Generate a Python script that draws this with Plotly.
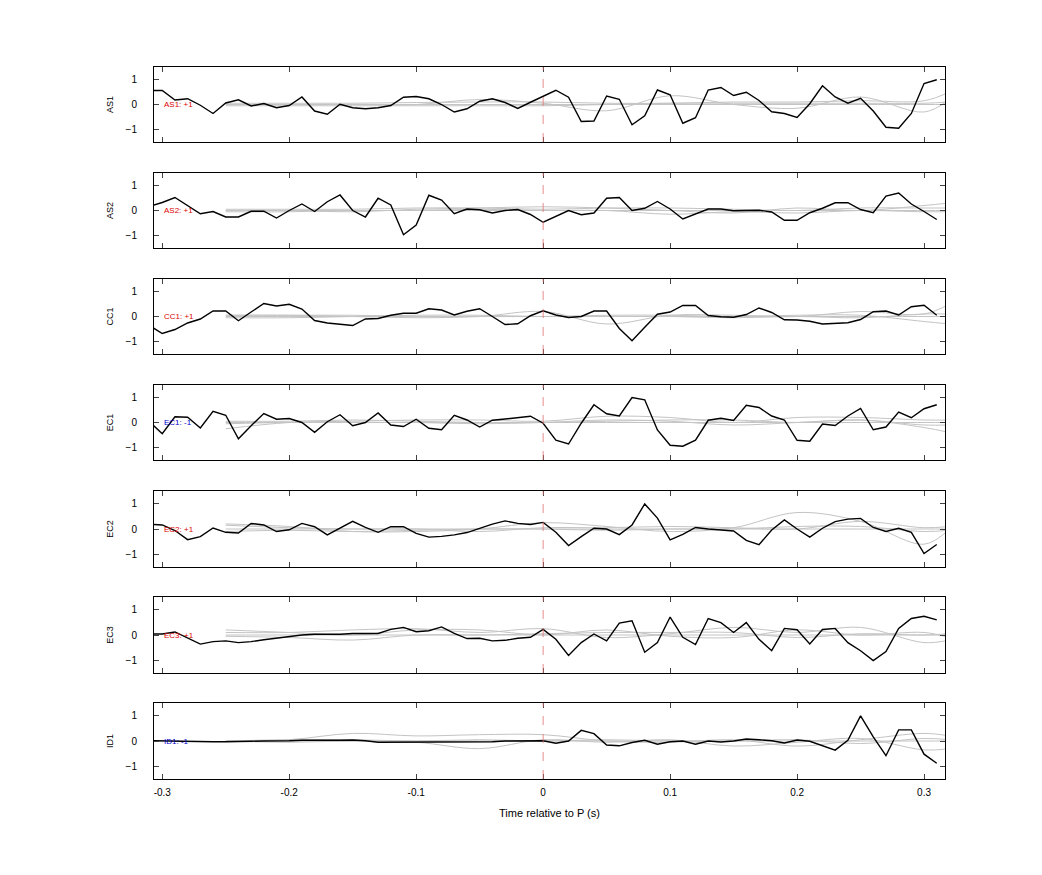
import plotly.graph_objects as go
from plotly.subplots import make_subplots

channels = ["AS1", "AS2", "CC1", "EC1", "EC2", "EC3", "ID1"]
polarity = ["+1", "+1", "+1", "-1", "+1", "+1", "-1"]
t = [round(-0.31 + 0.01 * i, 2) for i in range(63)]

black = {
 "AS1": [0.56,0.56,0.18,0.23,-0.03,-0.36,0.06,0.19,-0.06,0.04,-0.13,-0.04,0.30,-0.26,-0.39,0.01,-0.13,-0.17,-0.13,-0.04,0.29,0.32,0.23,0,-0.30,-0.17,0.13,0.23,0.08,-0.16,0.09,0.32,0.57,0.29,-0.68,-0.66,0.34,0.21,-0.81,-0.45,0.58,0.39,-0.75,-0.53,0.58,0.68,0.36,0.49,0.16,-0.29,-0.36,-0.52,0.03,0.75,0.30,0.05,0.25,-0.26,-0.91,-0.95,-0.36,0.84,0.99],
 "AS2": [0.16,0.32,0.52,0.19,-0.13,-0.04,-0.26,-0.26,-0.03,-0.03,-0.30,0,0.26,-0.04,0.35,0.62,0,-0.26,0.49,0.22,-0.97,-0.58,0.61,0.42,-0.13,0.06,0.03,-0.10,0,0.04,-0.16,-0.47,-0.22,0,-0.17,-0.10,0.49,0.52,0,0.09,0.36,0.06,-0.34,-0.13,0.06,0.06,-0.01,0,0.01,-0.06,-0.39,-0.39,-0.09,0.09,0.31,0.31,0.04,-0.09,0.58,0.70,0.26,-0.04,-0.36],
 "CC1": [-0.36,-0.68,-0.52,-0.26,-0.10,0.22,0.22,-0.17,0.18,0.52,0.42,0.49,0.30,-0.16,-0.26,-0.31,-0.36,-0.10,-0.08,0.05,0.13,0.13,0.31,0.26,0.06,0.21,0.31,0,-0.32,-0.29,0.03,0.23,0.06,-0.04,0,0.22,0.22,-0.48,-0.97,-0.43,0.09,0.18,0.44,0.44,0.04,-0.01,-0.03,0.08,0.34,0.16,-0.13,-0.14,-0.19,-0.30,-0.27,-0.25,-0.12,0.19,0.22,0.06,0.39,0.45,0.05],
 "EC1": [0.03,-0.45,0.23,0.21,-0.22,0.45,0.29,-0.65,-0.13,0.36,0.13,0.16,0,-0.39,0.03,0.31,-0.13,0,0.38,-0.10,-0.16,0.13,-0.23,-0.29,0.29,0.10,-0.18,0.09,0.14,0.19,0.25,-0.03,-0.71,-0.86,-0.03,0.71,0.35,0.26,1.0,0.91,-0.30,-0.91,-0.95,-0.71,0.09,0.17,0.08,0.69,0.60,0.26,0.10,-0.71,-0.75,-0.06,-0.12,0.26,0.56,-0.29,-0.18,0.42,0.19,0.55,0.71],
 "EC2": [0.19,0.16,-0.06,-0.42,-0.30,0.04,-0.13,-0.16,0.22,0.16,-0.10,-0.03,0.22,0.09,-0.23,0.03,0.30,0.06,-0.13,0.09,0.09,-0.17,-0.32,-0.29,-0.23,-0.14,0.04,0.19,0.32,0.22,0.18,0.26,-0.13,-0.65,-0.30,0.03,0,-0.22,0.16,0.99,0.43,-0.43,-0.21,0.06,0,-0.04,-0.08,-0.45,-0.62,-0.04,0.36,0,-0.32,0.03,0.29,0.39,0.42,0.06,-0.10,0.03,-0.13,-0.97,-0.61],
 "EC3": [0.04,0.04,0.12,-0.13,-0.36,-0.26,-0.23,-0.30,-0.26,-0.19,-0.12,-0.05,0,0.03,0.03,0.03,0.06,0.06,0.06,0.22,0.30,0.13,0.17,0.32,0.06,-0.14,-0.13,-0.23,-0.21,-0.13,-0.09,0.22,-0.17,-0.81,-0.30,0.04,-0.23,0.47,0.56,-0.68,-0.30,0.71,-0.09,-0.38,0.65,0.49,0.10,0.49,-0.17,-0.62,0.26,0.21,-0.35,0.22,0.26,-0.30,-0.62,-1.01,-0.65,0.26,0.65,0.74,0.60],
 "ID1": [0.01,0,-0.01,-0.03,-0.03,-0.03,-0.03,-0.01,-0.01,0,0,0.01,0.03,0.03,0.01,0.03,0.04,0.01,-0.05,-0.05,-0.04,-0.03,-0.03,-0.03,-0.04,-0.04,-0.04,-0.03,0,0.01,0.01,0.01,-0.09,0,0.42,0.29,-0.16,-0.19,-0.06,0.03,-0.13,-0.03,0,-0.13,0,-0.04,0,0.08,0.05,0.01,-0.08,0.04,-0.01,-0.19,-0.36,0.03,0.99,0.16,-0.58,0.44,0.44,-0.52,-0.88],
}

tg = [-0.25,-0.2,-0.15,-0.1,-0.05,0,0.05,0.1,0.15,0.2,0.25,0.3,0.32]
gray = {
 "AS1": [[0,0,0,0,0,0,0,0,0,0,0,0,0],
         [0,0,0,0,0.2,0.05,-0.25,0.35,0.0,-0.15,0.3,-0.3,0.2],
         [0.05,0.05,0.05,0.08,0.1,0.1,0.05,0.05,0.1,0.1,0.15,0.15,0.5],
         [-0.05,-0.05,-0.05,-0.05,-0.05,-0.05,0,0.05,0.05,0.05,0.05,0.05,0.1]],
 "AS2": [[0,0,0,0,0,0,0,0,0,0,0,0,0],
         [0,0,-0.05,0.05,0.1,0.15,0.1,0,-0.1,0.1,0,0.2,0.3],
         [0.05,0.05,0.05,0.1,0.1,0.05,0.1,0.1,0.05,0,0.1,0.1,0.1],
         [-0.05,-0.05,0,0,0.05,0,0,-0.15,-0.05,-0.1,0,-0.05,-0.05]],
 "CC1": [[0,0,0,0,0,0,0,0,0,0,0,0,0],
         [0.05,0.05,0,-0.05,0,0.2,-0.3,0.05,0.05,0,0.2,0.1,0.5],
         [0.05,0.05,0.05,0,0,0,0.05,0.05,0,0.05,0.05,-0.2,-0.3],
         [-0.05,-0.05,0,0.05,0.05,0,0,0,-0.05,0,-0.05,0.1,0.1]],
 "EC1": [[0,0,0,0,0,0,0,0,0,0,0,0,0],
         [-0.25,0,0.05,0.1,0.1,0.05,0.25,0.2,0,0.2,0.2,0.1,0.1],
         [0.05,0.05,0.1,0.05,0,0,0.05,0.1,0.1,0,0.1,-0.2,-0.4],
         [-0.05,0,0,0,-0.05,0,0.1,0.05,-0.1,0,0.1,-0.1,-0.1]],
 "EC2": [[0,0,0,0,0,0,0,0,0,0,0,0,0],
         [0.2,0.1,-0.1,-0.1,0,0.25,0.1,-0.1,0.05,0.65,0.3,-0.6,0],
         [0.15,0.05,0,0,-0.1,0.05,0.05,0.1,0.05,0,0.3,0.05,0.1],
         [-0.1,-0.05,-0.1,-0.05,0,0,-0.05,0,0,0.1,0.1,-0.1,-0.05]],
 "EC3": [[0,0,0,0,0,0,0,0,0,0,0,0,0],
         [0.1,0.1,0.2,0.25,0.1,0.25,-0.1,0.05,0.3,0.1,0.3,-0.3,-0.2],
         [0.2,0.1,0,0.2,0.2,0,0.2,-0.05,-0.1,0.2,0,0.1,-0.1],
         [-0.05,-0.1,-0.2,0,0,0.05,0.1,0.1,0.1,-0.1,0.05,0,0.05]],
 "ID1": [[0,0,0,0,0,0,0,0,0,0,0,0,0],
         [0,0.05,0.3,0.2,0.25,0.25,0,-0.05,0.05,-0.2,0.05,0.3,0.2],
         [0,-0.05,0,-0.05,-0.3,0.05,-0.05,0.05,-0.2,-0.05,0.1,-0.35,-0.3],
         [0,0.05,0.05,0,0.05,0,0.05,0,0,0.05,-0.1,0.1,0.05]],
}

W, H = 1042.0, 875.0
OFF = 7
pix = [(66,141),(172,247),(278,353),(384,459),(490,566),(596,672),(702,778)]

fig = make_subplots(rows=7, cols=1, shared_xaxes=True)
for i, ch in enumerate(channels):
    r = i + 1
    for g in gray[ch]:
        fig.add_trace(go.Scatter(x=tg, y=g, mode="lines", line=dict(color="#c4c4c4", width=1, shape="spline"),
                                 hoverinfo="skip", showlegend=False), row=r, col=1)
    fig.add_trace(go.Scatter(x=t, y=black[ch], mode="lines", line=dict(color="black", width=1.4),
                             showlegend=False), row=r, col=1)
    ax = "" if r == 1 else str(r)
    col = "#dd0000" if polarity[i] == "+1" else "#0000cc"
    fig.add_annotation(x=-0.3, y=0, xref="x"+ax, yref="y"+ax, text=f"{ch}: {polarity[i]}", showarrow=False,
                       xanchor="left", font=dict(color=col, size=8, family="Liberation Sans"))
    fig.add_shape(type="line", x0=0, x1=0, y0=-1.5, y1=1.5, xref="x"+ax, yref="y"+ax,
                  line=dict(color="#e07070", width=0.8, dash="dash"))
    top, bot = pix[i]
    fig.update_yaxes(row=r, col=1, domain=[1-(bot-OFF)/H, 1-(top-OFF)/H], range=[-1.5, 1.5], tickvals=[-1, 0, 1],
                     ticks="inside", ticklen=5, mirror="allticks", showline=True, linecolor="black", linewidth=1,
                     showgrid=False, zeroline=False, title=dict(text=ch, font=dict(size=9), standoff=10),
                     tickfont=dict(size=10), ticklabelstandoff=14)
    fig.update_xaxes(row=r, col=1, domain=[(152-6)/W, (943-6)/W], range=[-0.3065, 0.3165],
                     tickvals=[-0.3,-0.2,-0.1,0,0.1,0.2,0.3], ticktext=["-0.3","-0.2","-0.1","0","0.1","0.2","0.3"],
                     ticks="inside", ticklen=5, mirror="allticks", showline=True, linecolor="black", linewidth=1,
                     showgrid=False, zeroline=False, tickfont=dict(size=10), ticklabelstandoff=4,
                     showticklabels=(r == 7))
fig.update_xaxes(row=7, col=1, title=dict(text="Time relative to P (s)", font=dict(size=11), standoff=12))
fig.update_layout(width=1042, height=875, autosize=False, margin=dict(l=0, r=0, t=0, b=0),
                  plot_bgcolor="white", paper_bgcolor="white",
                  font=dict(family="Liberation Sans", color="black"))
fig.write_html("out.html")
